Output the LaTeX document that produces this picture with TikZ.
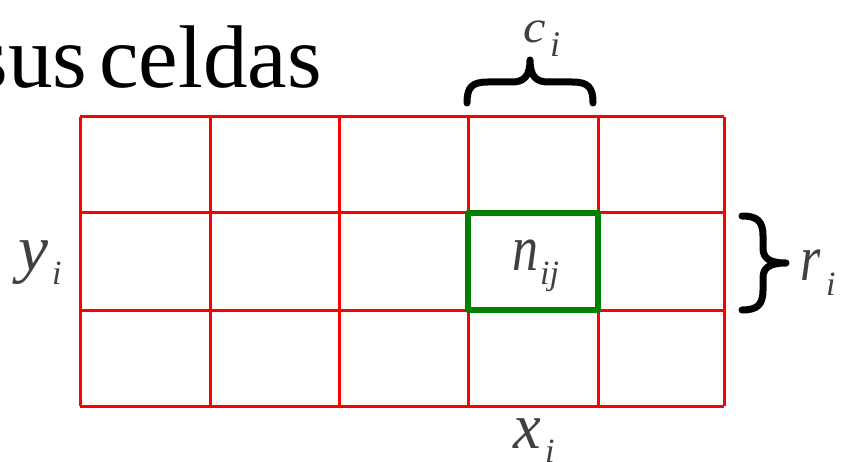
\documentclass[tikz,border=0pt]{standalone}
\usepackage{fontspec}
\setmainfont{Liberation Serif}
\usepackage{graphicx}
\definecolor{gridred}{HTML}{FF0000}
\definecolor{cellgreen}{HTML}{008000}
\definecolor{labgray}{HTML}{404040}
\begin{document}
\begin{tikzpicture}[x=1pt,y=-1pt,
  gridline/.style={draw=gridred,line width=3pt},
  cellbox/.style={draw=cellgreen,line width=6pt,line join=round},
  bracket/.style={draw=black,line width=7pt,line cap=round,line join=round},
  mainlab/.style={text=labgray,inner sep=0pt,anchor=base west,font=\fontsize{52}{60}\selectfont\itshape},
  sublab/.style={text=labgray,inner sep=0pt,anchor=base west,font=\fontsize{34}{38}\selectfont\itshape}]
\useasboundingbox (0,0) rectangle (842,462);
% title
\node[anchor=base east,inner sep=0pt,font=\fontsize{89}{100}\selectfont] (title) at (322,88) {sus\kern12pt celdas};
% grid
\foreach \x in {80,210,339,468,598,724} \draw[gridline] (\x,117) -- (\x,406);
\foreach \y in {117,213,310,406} \draw[gridline] (80,\y) -- (724,\y);
% highlighted cell
\draw[cellbox] (468,213) rectangle (598,310);
% top brace
\draw[bracket] (467,103) .. controls (467,87) and (472,82) .. (488,82) -- (512,82)
  .. controls (524,82) and (530,76) .. (530,60)
  .. controls (530,76) and (536,82) .. (548,82) -- (572,82)
  .. controls (588,82) and (593,87) .. (593,103);
% right brace
\draw[bracket] (742,216) .. controls (757,216) and (763,221) .. (763,236) -- (763,248)
  .. controls (763,258) and (769,263) .. (786,263)
  .. controls (769,263) and (763,268) .. (763,278) -- (763,290)
  .. controls (763,305) and (757,310) .. (742,310);
% labels
\node[mainlab,font=\fontsize{46}{52}\selectfont\itshape] (c) at (523,43) {\scalebox{1.1}[1]{c}};
\node[sublab,font=\fontsize{36}{40}\selectfont\itshape] (ci) at (550,57) {i};
\node[mainlab] (n) at (512,270) {\scalebox{1}[1.25]{n}};
\node[sublab] (nij) at (540,284) {ij};
\node[mainlab] (y) at (18,270) {\scalebox{1.3}[1.25]{y}};
\node[sublab] (yi) at (52,284) {i};
\node[mainlab] (r) at (800,280) {\scalebox{1}[1.25]{r}};
\node[sublab] (ri) at (826,295) {i};
\node[mainlab] (x) at (513,448) {\scalebox{1.2}[1.25]{x}};
\node[sublab] (xi) at (545,462) {i};
\end{tikzpicture}
\end{document}
